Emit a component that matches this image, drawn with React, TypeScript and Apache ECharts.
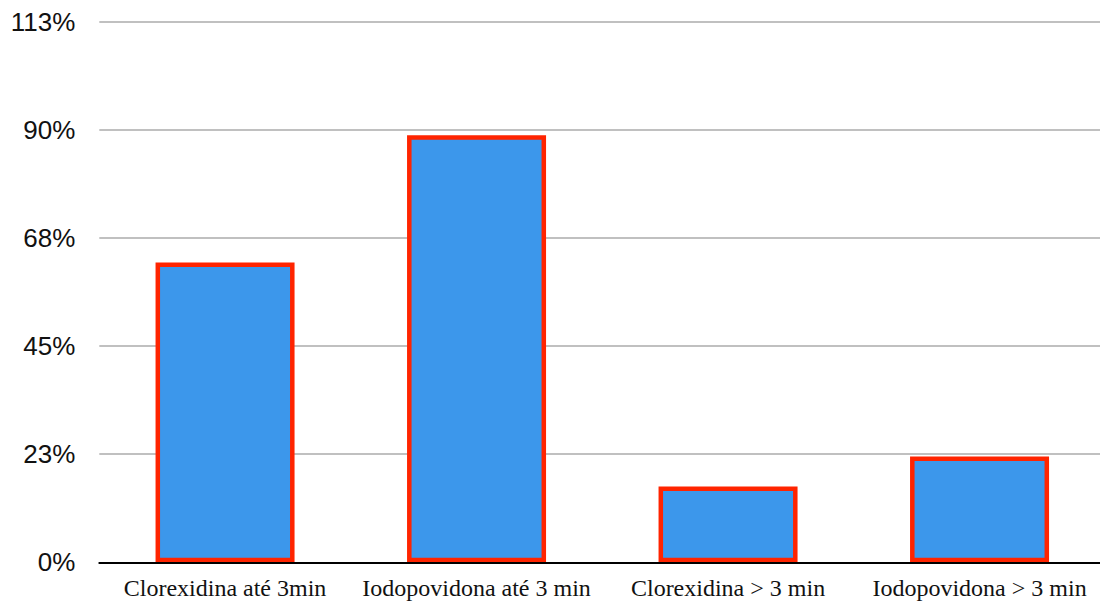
import React, { useEffect, useRef } from "react";
import * as echarts from "echarts";

// Share of cases per antiseptic and application time
const categories = [
  "Clorexidina até 3min",
  "Iodopovidona até 3 min",
  "Clorexidina > 3 min",
  "Iodopovidona > 3 min",
];
const percentages = [62.4, 88.9, 15.8, 22.0];

// Value axis: five equal steps up to 112.5 %
const axisMax = 112.5;
const axisStep = 22.5;

export default function App() {
  const ref = useRef<HTMLDivElement>(null);

  useEffect(() => {
    if (!ref.current) return;
    const chart = echarts.init(ref.current, undefined, { renderer: "svg" });
    chart.setOption({
      animation: false,
      backgroundColor: "#ffffff",
      // the plot runs a few pixels past the right edge of the canvas
      grid: {
        left: 99.3,
        width: 1006,
        top: 21.8,
        height: 540.5,
        containLabel: false,
        outerBoundsMode: "none",
      },
      xAxis: {
        type: "category",
        data: categories,
        z: 5,
        axisLine: { show: true, lineStyle: { color: "#000000", width: 2 } },
        axisTick: { show: false },
        axisLabel: {
          interval: 0,
          margin: 14,
          color: "#111111",
          fontFamily: "Liberation Serif",
          fontSize: 24,
        },
        splitLine: { show: false },
      },
      yAxis: {
        type: "value",
        min: 0,
        max: axisMax,
        interval: axisStep,
        axisLine: { show: false },
        axisTick: { show: false },
        axisLabel: {
          margin: 24,
          color: "#111111",
          fontFamily: "Liberation Sans",
          fontSize: 26,
          formatter: (v: number) => `${Math.round(v)}%`,
        },
        splitLine: { show: true, lineStyle: { color: "#c0c0c0", width: 2 } },
      },
      series: [
        {
          type: "bar",
          data: percentages,
          barWidth: 139,
          itemStyle: {
            color: "#3c97eb",
            borderColor: "#ff2400",
            borderWidth: 4.5,
          },
        },
      ],
    });
    return () => chart.dispose();
  }, []);

  return (
    <div
      ref={ref}
      style={{ position: "fixed", left: 0, top: 0, width: 1100, height: 602 }}
    />
  );
}
